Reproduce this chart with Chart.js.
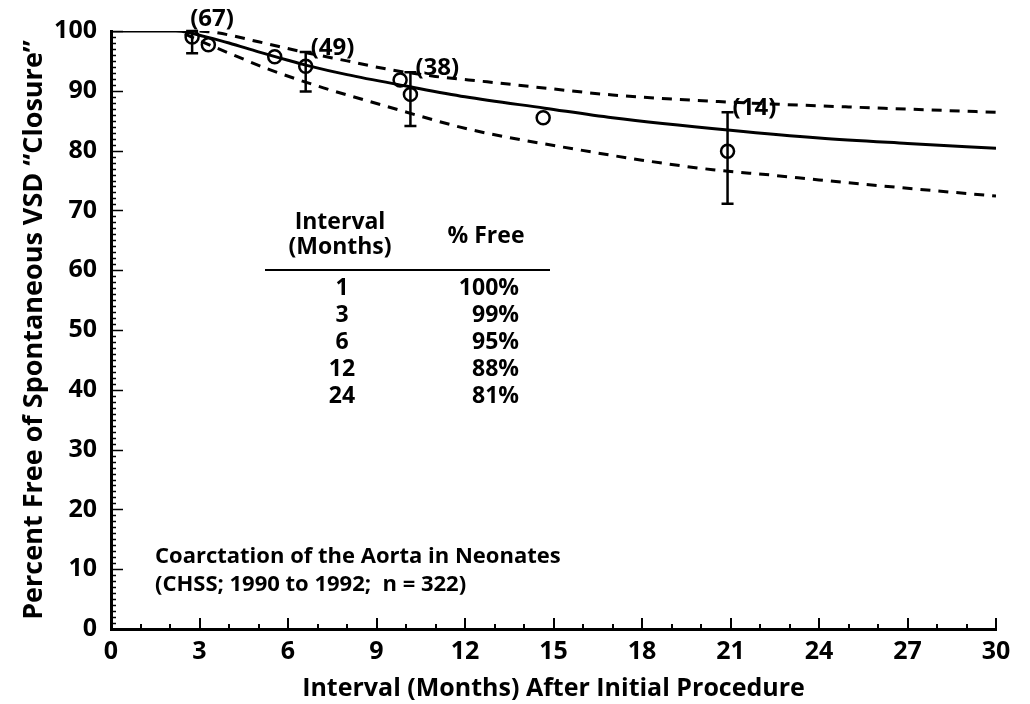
<!DOCTYPE html>
<html>
<head>
<meta charset="utf-8">
<script src="https://cdn.jsdelivr.net/npm/chart.js@4"></script>
<style>
  html, body { margin: 0; padding: 0; background: #fff; }
  #wrap { width: 1030px; height: 704px; }
</style>
</head>
<body>
<div id="wrap"><canvas id="vsdChart" width="1030" height="704"></canvas></div>
<script>
// ── Data ────────────────────────────────────────────────
// Parametric freedom-from-closure curve (months, %)
const curveMonths = [0, 2.2, 2.6, 3, 4, 5, 6, 6.6, 8, 10, 12, 14.7, 17, 21, 24, 27, 30];
const curveFree   = [100, 100, 99.8, 99.3, 98.0, 96.5, 95.1, 94.3, 92.7, 90.8, 89.0, 87.1, 85.5, 83.4, 82.1, 81.2, 80.4];

// 70% confidence limits
const upperMonths = [3.0, 3.6, 5, 6.5, 8, 9.5, 11, 12.75, 15, 17, 21, 25, 30];
const upperFree   = [100, 99.7, 98.2, 96.5, 95.0, 93.5, 92.4, 91.5, 90.3, 89.3, 88.1, 87.3, 86.4];
const lowerMonths = [2.5, 3, 4, 5.4, 7.2, 9.2, 11.7, 12.75, 15.9, 18, 20.4, 22.4, 24, 27, 30];
const lowerFree   = [99.5, 98.4, 96.3, 93.5, 90.5, 87.6, 84.1, 82.9, 80.1, 78.4, 76.8, 75.9, 75.1, 73.7, 72.4];

// Nonparametric estimates (open circles)
const obsMonths = [2.75, 3.3, 5.55, 6.6, 9.8, 10.15, 14.65, 20.9];
const obsFree   = [99.0, 97.7, 95.7, 94.1, 91.8, 89.4, 85.5, 79.9];

// Error bars with number at risk
const barMonths = [2.75, 6.6, 10.15, 20.9];
const barLow    = [96.3, 89.9, 84.1, 71.1];
const barHigh   = [100, 96.5, 93.1, 86.4];
const barCounts = ['(67)', '(49)', '(38)', '(14)'];

// Inset table
const tableMonths = ['1', '3', '6', '12', '24'];
const tableFree   = ['100%', '99%', '95%', '88%', '81%'];

const FONT = '"Open Sans", "DejaVu Sans", sans-serif';

const toPoints = (xs, ys) => xs.map((x, i) => ({ x: x, y: ys[i] }));

// ── Overlay: inward ticks, error bars, labels, table ────
const overlay = {
    id: 'overlay',
    afterDraw(chart) {
        const ctx = chart.ctx;
        const xs = chart.scales.x;
        const ys = chart.scales.y;
        const x0 = xs.getPixelForValue(0);
        const y0 = ys.getPixelForValue(0);

        ctx.save();
        ctx.strokeStyle = '#000';
        ctx.fillStyle = '#000';
        ctx.lineCap = 'butt';

        // y ticks: every 1%, longer every 10%
        ctx.lineWidth = 1.5;
        for (let v = 0; v <= 100; v++) {
            const py = Math.round(ys.getPixelForValue(v)) + 0.5;
            const len = v % 10 === 0 ? 12 : 5;
            ctx.beginPath();
            ctx.moveTo(x0, py);
            ctx.lineTo(x0 + len, py);
            ctx.stroke();
        }
        // x ticks: every month, longer every 3
        ctx.lineWidth = 2;
        for (let m = 1; m <= 30; m++) {
            const px = Math.round(xs.getPixelForValue(m));
            const len = m % 3 === 0 ? 11 : 5;
            ctx.beginPath();
            ctx.moveTo(px, y0);
            ctx.lineTo(px, y0 - len);
            ctx.stroke();
        }

        // error bars with caps
        ctx.lineWidth = 2.5;
        barMonths.forEach((m, i) => {
            const px = xs.getPixelForValue(m);
            const top = ys.getPixelForValue(barHigh[i]);
            const bot = ys.getPixelForValue(barLow[i]);
            ctx.beginPath();
            ctx.moveTo(px, top);
            ctx.lineTo(px, bot);
            ctx.moveTo(px - 6, top);
            ctx.lineTo(px + 6, top);
            ctx.moveTo(px - 6, bot);
            ctx.lineTo(px + 6, bot);
            ctx.stroke();
        });

        // numbers at risk
        ctx.font = 'bold 24px ' + FONT;
        ctx.textAlign = 'left';
        ctx.textBaseline = 'middle';
        barMonths.forEach((m, i) => {
            const px = xs.getPixelForValue(m);
            const top = ys.getPixelForValue(barHigh[i]);
            if (i === 0) {
                ctx.fillText(barCounts[i], px - 2, top - 12);
            } else {
                ctx.fillText(barCounts[i], px + 5, top - 4);
            }
        });

        // inset table
        ctx.font = 'bold 23px ' + FONT;
        ctx.textAlign = 'center';
        ctx.fillText('Interval', 340, 222);
        ctx.fillText('(Months)', 340, 247);
        ctx.fillText('% Free', 486, 236);
        ctx.lineWidth = 2;
        ctx.beginPath();
        ctx.moveTo(265, 270);
        ctx.lineTo(550, 270);
        ctx.stroke();
        tableMonths.forEach((m, i) => {
            const ty = 288 + i * 27;
            ctx.textAlign = 'center';
            ctx.fillText(m, 342, ty);
            ctx.textAlign = 'right';
            ctx.fillText(tableFree[i], 519, ty);
        });

        // study note
        ctx.font = 'bold 22px ' + FONT;
        ctx.textAlign = 'left';
        ctx.fillText('Coarctation of the Aorta in Neonates', 155, 557);
        ctx.fillText('(CHSS; 1990 to 1992;  n = 322)', 155, 585);

        ctx.restore();
    }
};

// ── Chart ───────────────────────────────────────────────
const ctx = document.getElementById('vsdChart').getContext('2d');
new Chart(ctx, {
    type: 'scatter',
    data: {
        datasets: [
            {
                type: 'line',
                data: toPoints(curveMonths, curveFree),
                borderColor: '#000',
                borderWidth: 3,
                pointRadius: 0,
                cubicInterpolationMode: 'monotone',
                fill: false
            },
            {
                type: 'line',
                data: toPoints(upperMonths, upperFree),
                borderColor: '#000',
                borderWidth: 3,
                borderDash: [10, 8],
                pointRadius: 0,
                cubicInterpolationMode: 'monotone',
                fill: false
            },
            {
                type: 'line',
                data: toPoints(lowerMonths, lowerFree),
                borderColor: '#000',
                borderWidth: 3,
                borderDash: [10, 8],
                pointRadius: 0,
                cubicInterpolationMode: 'monotone',
                fill: false
            },
            {
                data: toPoints(obsMonths, obsFree),
                pointStyle: 'circle',
                pointRadius: 6.5,
                borderWidth: 2.5,
                borderColor: '#000',
                backgroundColor: 'rgba(0,0,0,0)'
            }
        ]
    },
    options: {
        responsive: false,
        animation: false,
        events: [],
        layout: { padding: { top: 31, right: 34, left: 0, bottom: 0 } },
        plugins: {
            legend: { display: false },
            tooltip: { enabled: false }
        },
        scales: {
            x: {
                type: 'linear',
                min: 0,
                max: 30,
                afterFit: (scale) => { scale.height = 75; },
                ticks: {
                    stepSize: 3,
                    padding: 8,
                    maxRotation: 0,
                    color: '#000',
                    font: { family: FONT, size: 25, weight: 'bold' }
                },
                grid: { display: false, drawTicks: false },
                border: { display: true, color: '#000', width: 3 },
                title: {
                    display: true,
                    text: 'Interval (Months) After Initial Procedure',
                    color: '#000',
                    font: { family: FONT, size: 25, weight: 'bold' },
                    padding: { top: 0, bottom: 0 }
                }
            },
            y: {
                type: 'linear',
                min: 0,
                max: 100,
                afterFit: (scale) => { scale.width = 111; },
                ticks: {
                    stepSize: 10,
                    padding: 14,
                    color: '#000',
                    font: { family: FONT, size: 25, weight: 'bold' }
                },
                grid: { display: false, drawTicks: false },
                border: { display: true, color: '#000', width: 3 },
                title: {
                    display: true,
                    text: 'Percent Free of Spontaneous VSD \u201CClosure\u201D',
                    color: '#000',
                    font: { family: FONT, size: 27, weight: 'bold' },
                    padding: { top: 18, bottom: 0 }
                }
            }
        }
    },
    plugins: [overlay]
});
</script>
</body>
</html>
